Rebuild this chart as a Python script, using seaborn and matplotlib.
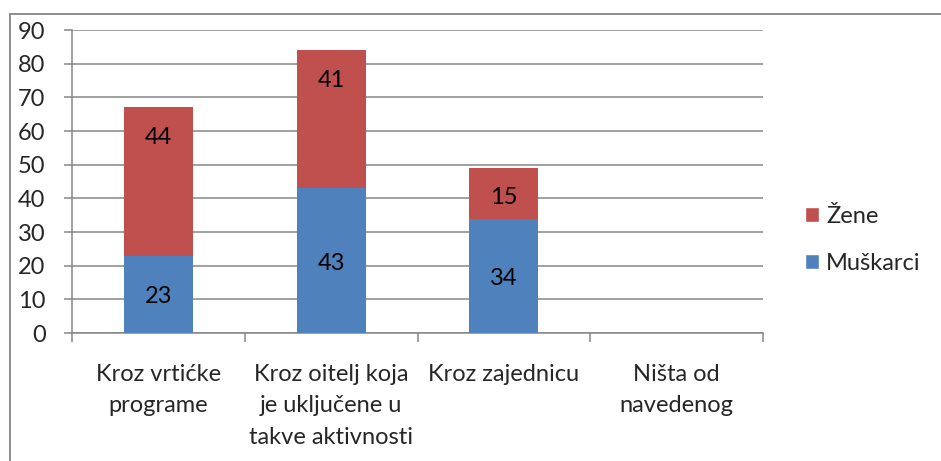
import numpy as np
import pandas as pd
import seaborn as sns
import matplotlib.pyplot as plt
from matplotlib.patches import Patch
from matplotlib.lines import Line2D

# podaci
kategorije = [
    "Kroz vrtićke\nprograme",
    "Kroz oitelj koja\nje uključene u\ntakve aktivnosti",
    "Kroz zajednicu",
    "Ništa od\nnavedenog",
]
muskarci = [23, 43, 34, 0]
zene = [44, 41, 15, 0]
y_ticks = [0, 10, 20, 30, 40, 50, 60, 70, 80, 90]

plava = "#4F81BD"
crvena = "#C0504D"
siva = "#868686"
fs = 17

sns.set_theme(style="white")
plt.rcParams["font.family"] = ["Lato", "DejaVu Sans"]

df = pd.DataFrame({"kategorija": kategorije, "Muškarci": muskarci, "Žene": zene})
df["ukupno"] = df["Muškarci"] + df["Žene"]

fig = plt.figure(figsize=(9.41, 4.61), dpi=100)
ax = fig.add_axes([72 / 941, 1 - 333 / 461, (763 - 72) / 941, (333 - 30) / 461])

# naslagani stupci: ukupno (crveno) pa muškarci (plavo) preko
sns.barplot(data=df, x="kategorija", y="ukupno", color=crvena, saturation=1,
            width=0.4, errorbar=None, ax=ax, zorder=3, linewidth=0)
sns.barplot(data=df, x="kategorija", y="Muškarci", color=plava, saturation=1,
            width=0.4, errorbar=None, ax=ax, zorder=3, linewidth=0)

# oznake vrijednosti
for i, (m, z) in enumerate(zip(muskarci, zene)):
    if m:
        ax.text(i, m / 2 - 0.8, str(m), ha="center", va="center", fontsize=fs, color="black", zorder=4)
    if z:
        ax.annotate(str(z), xy=(i, m + z), xytext=(0, -21.5), textcoords="offset points",
                    ha="center", va="center", fontsize=fs, color="black", zorder=4)

ax.set_xlim(-0.5, 3.5)
ax.set_ylim(0, 90)
ax.set_yticks(y_ticks)
ax.yaxis.grid(True, color=siva, linewidth=1.1, zorder=0)
ax.set_axisbelow(True)

ax.set_xlabel("")
ax.set_ylabel("")
ax.set_xticks(range(len(kategorije)))
ax.set_xticklabels(kategorije, fontsize=fs, linespacing=1.6, va="top")
ax.set_xticks(np.arange(-0.5, 4.0, 1.0), minor=True)
ax.tick_params(axis="x", which="major", length=0, pad=22.5)
ax.tick_params(axis="x", which="minor", length=6.5, width=1.1, color=siva, direction="out", bottom=True)
ax.tick_params(axis="y", length=6, width=1.1, color=siva, direction="out", left=True, pad=13, labelsize=fs)

for s in ["top", "right"]:
    ax.spines[s].set_visible(False)
for s in ["left", "bottom"]:
    ax.spines[s].set_color(siva)
    ax.spines[s].set_linewidth(1.1)

# legenda
rucke = [Patch(facecolor=crvena, label="Žene"), Patch(facecolor=plava, label="Muškarci")]
fig.legend(handles=rucke, loc="center left", bbox_to_anchor=(805 / 941, 1 - 240 / 461),
           frameon=False, fontsize=fs, handlelength=0.6, handleheight=0.6,
           handletextpad=0.3, labelspacing=1.1, borderpad=0, borderaxespad=0)

# okvir grafikona
fig.add_artist(Line2D([10 / 941, 10 / 941], [0, 1 - 14 / 461], color=siva, linewidth=1.3,
                      transform=fig.transFigure))
fig.add_artist(Line2D([10 / 941, 1], [1 - 14 / 461, 1 - 14 / 461], color=siva, linewidth=1.3,
                      transform=fig.transFigure))

fig.savefig("out.png", dpi=100)
